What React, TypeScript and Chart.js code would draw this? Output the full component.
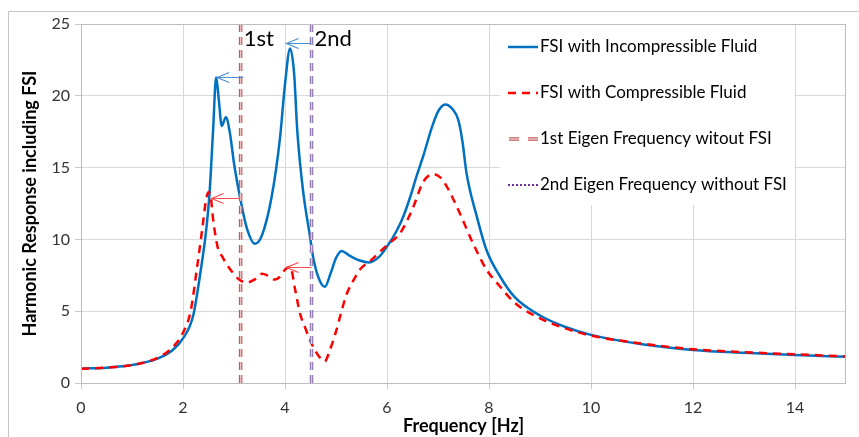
import React, { useEffect, useRef } from "react";
import { Chart, registerables } from "chart.js";

Chart.register(...registerables);

// ---------- data ----------
const incompFreq = [0, 0.5, 1.0, 1.5, 1.8, 2.0, 2.2, 2.35, 2.45, 2.52, 2.59, 2.65, 2.7, 2.76, 2.84, 2.92, 3.0, 3.12, 3.25, 3.41, 3.55, 3.74, 3.9, 4.0, 4.1, 4.18, 4.24, 4.35, 4.49, 4.55, 4.65, 4.78, 4.9, 5.0, 5.11, 5.25, 5.45, 5.65, 5.85, 6.0, 6.19, 6.32, 6.45, 6.58, 6.71, 6.88, 7.0, 7.14, 7.28, 7.4, 7.48, 7.56, 7.76, 7.95, 8.22, 8.5, 9.0, 9.5, 10, 11, 12, 13, 14, 15];
const incompResp = [1.0, 1.07, 1.25, 1.7, 2.3, 3.1, 4.7, 7.9, 10.5, 13.2, 17.6, 21.3, 19.8, 17.9, 18.5, 17.4, 15.3, 12.9, 10.8, 9.7, 10.3, 13.0, 17.0, 20.8, 23.3, 21.5, 17.6, 13.5, 10.2, 8.8, 7.4, 6.7, 7.7, 8.7, 9.2, 8.9, 8.55, 8.4, 8.8, 9.5, 10.6, 11.6, 12.9, 14.4, 15.8, 17.8, 18.9, 19.4, 19.1, 18.3, 16.8, 14.6, 11.6, 9.26, 7.4, 6.0, 4.7, 3.9, 3.35, 2.7, 2.3, 2.1, 1.95, 1.82];

const compFreq = [0, 0.5, 1.0, 1.5, 1.8, 2.0, 2.15, 2.27, 2.38, 2.45, 2.5, 2.55, 2.59, 2.64, 2.69, 2.77, 2.85, 2.95, 3.1, 3.25, 3.4, 3.55, 3.65, 3.8, 3.9, 4.0, 4.1, 4.2, 4.29, 4.4, 4.49, 4.6, 4.7, 4.78, 4.88, 5.01, 5.1, 5.21, 5.35, 5.47, 5.67, 6.0, 6.25, 6.38, 6.52, 6.71, 6.91, 7.05, 7.17, 7.3, 7.43, 7.69, 7.95, 8.22, 8.5, 9.0, 9.5, 10, 11, 12, 13, 14, 15];
const compResp = [1.0, 1.07, 1.25, 1.75, 2.5, 3.5, 5.0, 7.9, 10.8, 12.7, 13.3, 12.8, 11.4, 10.2, 9.3, 8.8, 8.3, 7.8, 7.2, 7.0, 7.2, 7.6, 7.5, 7.2, 7.4, 7.9, 8.1, 6.5, 4.9, 3.8, 3.0, 2.2, 1.7, 1.5, 2.3, 3.7, 4.9, 6.2, 7.2, 7.9, 8.5, 9.6, 10.4, 11.2, 12.3, 14.0, 14.55, 14.3, 13.7, 12.8, 11.8, 9.7, 7.9, 6.7, 5.6, 4.5, 3.8, 3.3, 2.75, 2.35, 2.15, 2.0, 1.85];

const eigenFreqs = [3.13, 4.52];
const eigenLabels = ["1st", "2nd"];
const eigenSpan = [0, 25];

const legendLabels = [
  "FSI with Incompressible Fluid",
  "FSI with Compressible Fluid",
  "1st Eigen Frequency witout FSI",
  "2nd Eigen Frequency without FSI",
];

// arrows (data coordinates): tail x -> head x at level y
const arrowSeries = [0, 0, 1, 1];
const arrowTailX = [3.18, 4.52, 3.12, 4.52];
const arrowHeadX = [2.67, 4.03, 2.56, 4.03];
const arrowY = [21.3, 23.65, 12.86, 8.1];

const xMin = 0;
const xMax = 15;
const xStep = 2;
const yMin = 0;
const yMax = 25;
const yStep = 5;

const xTitle = "Frequency [Hz]";
const yTitle = "Harmonic Response including FSI";

// ---------- styles ----------
const FONT = "Lato, 'Open Sans', 'DejaVu Sans', sans-serif";
const BLUE = "#0070c0";
const RED = "#ff0000";
const ARROW_COLORS = ["#4a8fd6", "#ff4b4b"];
const E1_OUT = "#bf5a57";
const E1_IN = "#ecc4c3";
const E2_OUT = "#8a72aa";
const E2_IN = "#d4cae2";
const GRID = "#d9d9d9";
const DASH_V = [8, 5];

const zip = (xs: number[], ys: number[]) => xs.map((x, i) => ({ x, y: ys[i] }));
const vline = (f: number) => eigenSpan.map((y) => ({ x: f, y }));

const decorPlugin = {
  id: "decor",
  beforeDraw(chart: any) {
    const { ctx, width, height } = chart;
    ctx.save();
    ctx.fillStyle = "#ffffff";
    ctx.fillRect(0, 0, width, height);
    ctx.strokeStyle = "#c4c4c4";
    ctx.lineWidth = 1;
    ctx.beginPath();
    ctx.moveTo(8.5, height);
    ctx.lineTo(8.5, 11.5);
    ctx.lineTo(width, 11.5);
    ctx.stroke();
    ctx.restore();
  },
  beforeDatasetsDraw(chart: any) {
    const { ctx, chartArea: ca } = chart;
    ctx.save();
    // legend box
    const lx = 500;
    const lw = 294;
    ctx.fillStyle = "#ffffff";
    ctx.fillRect(lx, ca.top + 1, lw, 180);
    const ys = [47, 93, 139, 185];
    const sx0 = 508;
    const sx1 = 538;
    legendLabels.forEach((label, i) => {
      const y = ys[i];
      ctx.save();
      if (i === 0) {
        ctx.strokeStyle = BLUE;
        ctx.lineWidth = 2.5;
        ctx.beginPath();
        ctx.moveTo(sx0, y);
        ctx.lineTo(sx1, y);
        ctx.stroke();
      } else if (i === 1) {
        ctx.strokeStyle = RED;
        ctx.lineWidth = 2.5;
        ctx.setLineDash([8, 6]);
        ctx.beginPath();
        ctx.moveTo(sx0, y);
        ctx.lineTo(sx1, y);
        ctx.stroke();
      } else if (i === 2) {
        ctx.setLineDash([10, 9]);
        ctx.strokeStyle = E1_OUT;
        ctx.lineWidth = 3.5;
        ctx.beginPath();
        ctx.moveTo(sx0 + 1, y);
        ctx.lineTo(sx1, y);
        ctx.stroke();
        ctx.strokeStyle = E1_IN;
        ctx.lineWidth = 1.3;
        ctx.stroke();
      } else {
        ctx.strokeStyle = "#7030a0";
        ctx.lineWidth = 2;
        ctx.setLineDash([2, 2]);
        ctx.beginPath();
        ctx.moveTo(sx0, y);
        ctx.lineTo(sx1, y);
        ctx.stroke();
      }
      ctx.restore();
      ctx.fillStyle = "#000000";
      ctx.font = `17px ${FONT}`;
      ctx.textBaseline = "middle";
      ctx.textAlign = "left";
      ctx.fillText(label, sx1 + 2, y);
    });
    ctx.restore();
  },
  afterDraw(chart: any) {
    const { ctx, chartArea: ca, scales } = chart;
    const xs = scales.x;
    const ysc = scales.y;
    ctx.save();
    // plot area border
    ctx.strokeStyle = "#bdbdbd";
    ctx.lineWidth = 1;
    ctx.strokeRect(Math.round(ca.left) + 0.5, Math.round(ca.top) + 0.5, Math.round(ca.right - ca.left) - 1, Math.round(ca.bottom - ca.top));

    // arrows
    arrowSeries.forEach((s, i) => {
      const tx = xs.getPixelForValue(arrowTailX[i]);
      const hx = xs.getPixelForValue(arrowHeadX[i]);
      const py = Math.round(ysc.getPixelForValue(arrowY[i])) + 0.5;
      ctx.strokeStyle = ARROW_COLORS[s];
      ctx.lineWidth = 1.2;
      ctx.beginPath();
      ctx.moveTo(tx, py);
      ctx.lineTo(hx, py);
      ctx.moveTo(hx + 12, py - 5);
      ctx.lineTo(hx, py);
      ctx.lineTo(hx + 12, py + 5);
      ctx.stroke();
    });

    // eigen labels
    ctx.fillStyle = "#000000";
    ctx.font = `22px ${FONT}`;
    ctx.textBaseline = "middle";
    ctx.textAlign = "left";
    eigenFreqs.forEach((f, i) => {
      ctx.fillText(eigenLabels[i], xs.getPixelForValue(f) + 3, ca.top + 15);
    });

    // axis titles
    ctx.font = `bold 18px ${FONT}`;
    ctx.textAlign = "center";
    ctx.textBaseline = "alphabetic";
    ctx.fillStyle = "#000000";
    ctx.fillText(xTitle, (ca.left + ca.right) / 2, 432);
    ctx.save();
    ctx.translate(36, (ca.top + ca.bottom) / 2);
    ctx.rotate(-Math.PI / 2);
    ctx.fillText(yTitle, 0, 0);
    ctx.restore();
    ctx.restore();
  },
};

export default function App() {
  const ref = useRef<HTMLCanvasElement>(null);
  useEffect(() => {
    if (!ref.current) return;
    const vBase = {
      pointRadius: 0,
      fill: false,
      borderDash: DASH_V,
      borderCapStyle: "butt",
    };
    const chart = new Chart(ref.current, {
      type: "line",
      data: {
        datasets: [
          {
            label: legendLabels[0],
            data: zip(incompFreq, incompResp),
            borderColor: BLUE,
            borderWidth: 2.5,
            pointRadius: 0,
            cubicInterpolationMode: "monotone",
            fill: false,
            order: 6,
          },
          {
            label: legendLabels[1],
            data: zip(compFreq, compResp),
            borderColor: RED,
            borderWidth: 2.5,
            borderDash: [8, 6],
            pointRadius: 0,
            cubicInterpolationMode: "monotone",
            fill: false,
            order: 5,
          },
          { ...vBase, label: legendLabels[2], data: vline(eigenFreqs[0]), borderColor: E1_OUT, borderWidth: 3.5, order: 4 },
          { ...vBase, label: legendLabels[2] + " (inner)", data: vline(eigenFreqs[0]), borderColor: E1_IN, borderWidth: 1.3, order: 3 },
          { ...vBase, label: legendLabels[3], data: vline(eigenFreqs[1]), borderColor: E2_OUT, borderWidth: 3.5, order: 2 },
          { ...vBase, label: legendLabels[3] + " (inner)", data: vline(eigenFreqs[1]), borderColor: E2_IN, borderWidth: 1.3, order: 1 },
        ],
      },
      options: {
        responsive: false,
        animation: false,
        layout: { padding: { left: 8, top: 24, right: 13, bottom: 0 } },
        plugins: {
          legend: { display: false },
          tooltip: { enabled: false },
        },
        scales: {
          x: {
            type: "linear",
            min: xMin,
            max: xMax,
            afterBuildTicks: (scale: any) => {
              scale.ticks = scale.ticks.filter((t: any) => t.value % xStep === 0);
            },
            afterFit: (scale: any) => {
              scale.height = 54;
            },
            ticks: {
              stepSize: xStep,
              autoSkip: false,
              maxRotation: 0,
              padding: 9,
              color: "#333333",
              font: { family: FONT, size: 16 },
            },
            grid: { color: GRID, tickColor: "#c8c8c8", tickLength: 6, lineWidth: 1 },
            border: { display: false },
          },
          y: {
            type: "linear",
            min: yMin,
            max: yMax,
            afterFit: (scale: any) => {
              scale.width = 73;
            },
            ticks: {
              stepSize: yStep,
              padding: 5,
              color: "#333333",
              font: { family: FONT, size: 16 },
            },
            grid: { color: GRID, tickColor: "#c8c8c8", tickLength: 6, lineWidth: 1 },
            border: { display: false },
          },
        },
      },
      plugins: [decorPlugin],
    } as any);
    return () => chart.destroy();
  }, []);
  return (
    <div style={{ position: "absolute", left: 0, top: 0, width: 859, height: 437 }}>
      <canvas ref={ref} width={859} height={437} style={{ display: "block" }} />
    </div>
  );
}
